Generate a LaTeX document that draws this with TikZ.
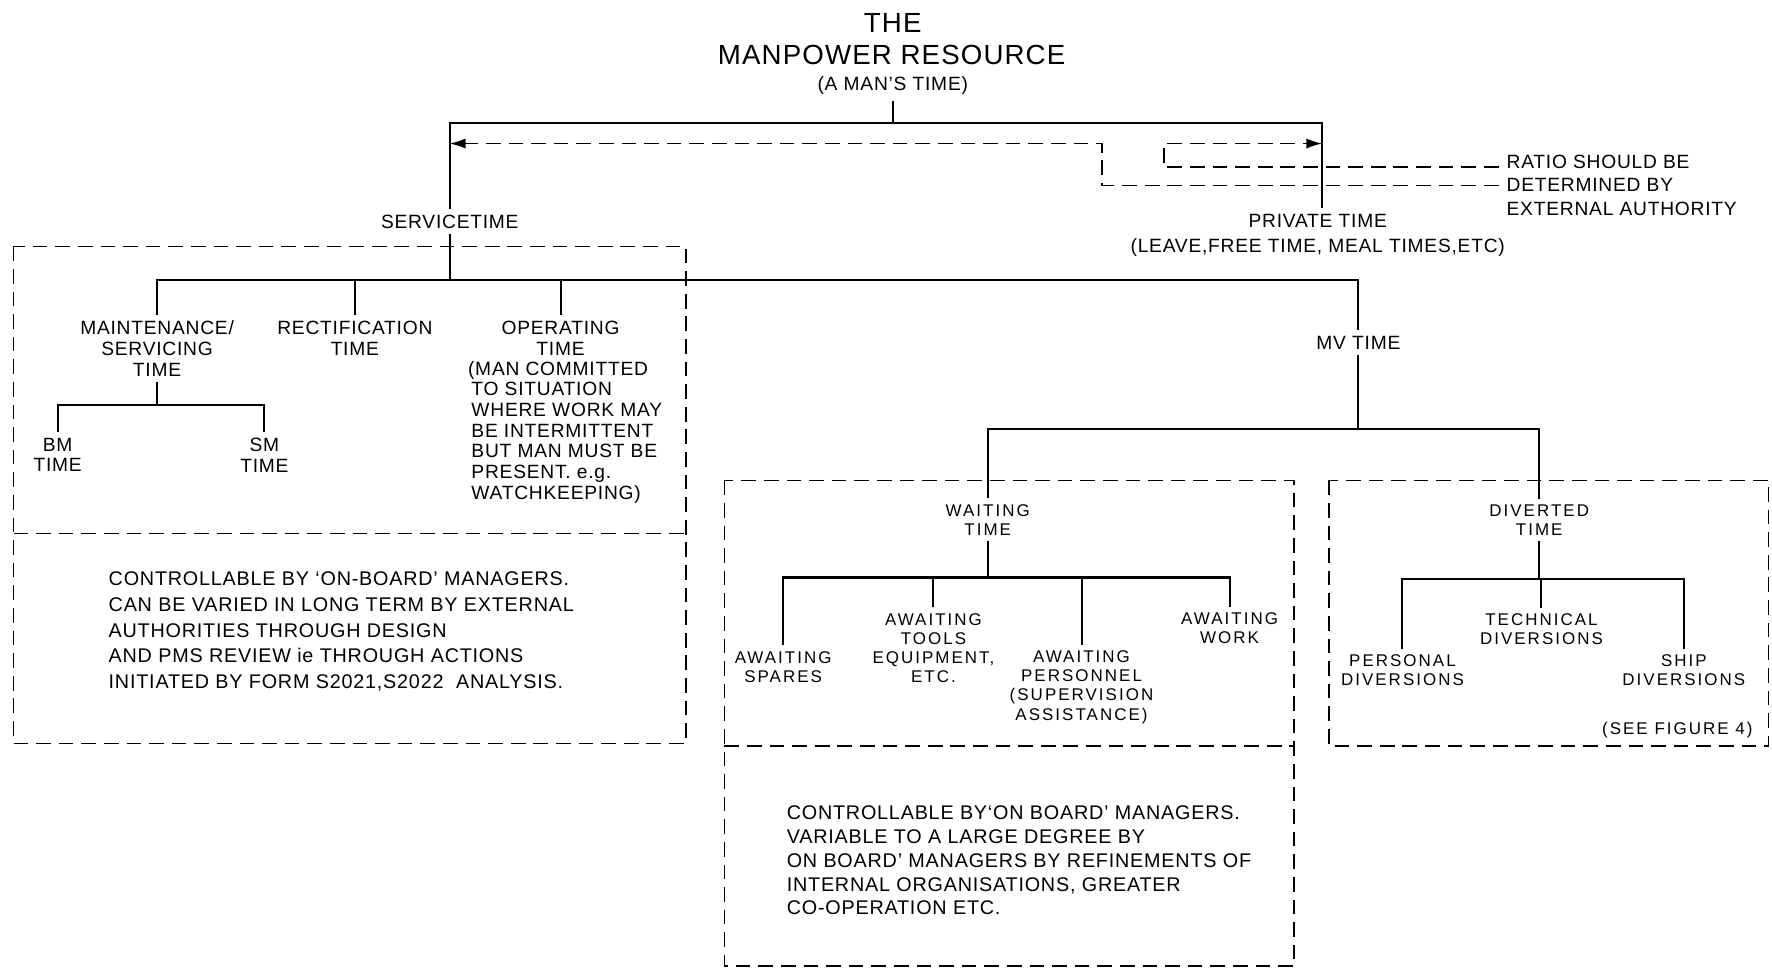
\documentclass[tikz,border=0pt]{standalone}
\usepackage{fontspec}
\setmainfont{Liberation Sans}[LetterSpace=4]
\newfontfamily\widefont{Liberation Sans}[LetterSpace=12]
\usetikzlibrary{arrows.meta}
\begin{document}
\begin{tikzpicture}[x=1pt,y=-1pt,
  lbl/.style={inner xsep=0pt, inner ysep=5pt, align=center, font=\fontsize{17}{18.5}\selectfont},
  wlbl/.style={inner xsep=0pt, inner ysep=5pt, align=center, font=\widefont\fontsize{15}{17}\selectfont},
  note/.style={inner sep=0pt, align=left, anchor=north west},
  ln/.style={line width=1.8pt},
  dln/.style={line width=1.4pt, dash pattern=on 13pt off 7pt},
  arr/.style={-{Latex[length=14pt,width=9pt]}},
]
\useasboundingbox (0,0) rectangle (1568,857);

% title
\node[lbl, font=\fontsize{24.5}{29}\selectfont] (t1) at (790,20) {THE};
\node[lbl, font=\fontsize{24.5}{29}\selectfont] (t2) at (789,49) {MANPOWER RESOURCE};
\node[lbl, font=\fontsize{17}{18}\selectfont] (t3) at (790,76) {(A MAN’S TIME)};

\coordinate (L) at (398,109);
\coordinate (R) at (1170,109);
\coordinate (d1) at (975,127);
\coordinate (d2) at (1030,127);

\node[lbl] (srv) at (398,196) {SERVICETIME};
\node[lbl, font=\fontsize{17}{22}\selectfont] (prv) at (1166,208) {PRIVATE TIME\\(LEAVE,FREE TIME, MEAL TIMES,ETC)};

\node[inner sep=0pt, anchor=west, font=\fontsize{17}{18}\selectfont] (ra1) at (1333,143) {RATIO SHOULD BE};
\node[inner sep=0pt, anchor=west, font=\fontsize{17}{18}\selectfont] (ra2) at (1333,164) {DETERMINED BY};
\node[inner sep=0pt, anchor=west, font=\fontsize{17}{18}\selectfont] (ra3) at (1333,185) {EXTERNAL AUTHORITY};

\draw[ln] (t3.south) -- (t3.south |- L);
\draw[ln] (srv.north) -- (L) -- (R) -- (R |- prv.north);
\draw[dln,arr] ([xshift=-7pt,yshift=-5pt]ra1.west) -| (d2) -- (d2 -| R);
\draw[dln,arr] ([xshift=-7pt]ra2.west) -| (d1) -- (d1 -| L);

% service box
\draw[dln] (12,218) rectangle (607,658);
\draw[dln] (12,472) -- (607,472);

\coordinate (sb) at (398,248);
\node[lbl] (mnt) at (139,308.5) {MAINTENANCE/\\SERVICING\\TIME};
\node[lbl] (rect) at (314,299) {RECTIFICATION\\TIME};
\node[lbl] (oper) at (496,299) {OPERATING\\TIME};
\node[note, font=\fontsize{17}{18.3}\selectfont] (operd) at (414,319.5) {(MAN COMMITTED\\\hspace*{3pt}TO SITUATION\\\hspace*{3pt}WHERE WORK MAY\\\hspace*{3pt}BE INTERMITTENT\\\hspace*{3pt}BUT MAN MUST BE\\\hspace*{3pt}PRESENT. e.g.\\\hspace*{3pt}WATCHKEEPING)};

\node[lbl] (mv) at (1202,303) {MV TIME};

\draw[ln] (srv.south) -- (sb);
\draw[ln] (mnt.north) -- (mnt.north |- sb) -| (mv.north);
\draw[ln] (rect.north) -- (rect.north |- sb);
\draw[ln] (oper.north) -- (oper.north |- sb);

\coordinate (mb) at (139,358);
\node[lbl] (bm) at (51,402.5) {BM\\TIME};
\node[lbl] (sm) at (234,402.5) {SM\\TIME};
\draw[ln] (mnt.south) -- (mb);
\draw[ln] (bm.north) -- (bm.north |- mb) -| (sm.north);

\node[note, font=\fontsize{17.5}{22.7}\selectfont] (c1) at (96,506) {CONTROLLABLE BY ‘ON-BOARD’ MANAGERS.\\CAN BE VARIED IN LONG TERM BY EXTERNAL\\AUTHORITIES THROUGH DESIGN\\AND PMS REVIEW ie THROUGH ACTIONS\\INITIATED BY FORM S2021,S2022\ \ ANALYSIS.};

% MV part
\coordinate (mvb) at (1202,380);
\node[wlbl] (wt) at (874,460) {WAITING\\TIME};
\node[wlbl] (dv) at (1362,460) {DIVERTED\\TIME};
\draw[ln] (mv.south) -- (mvb);
\draw[ln] (wt.north) -- (wt.north |- mvb) -| (dv.north);

\draw[dln] (641,425) rectangle (1145,855);
\draw[dln] (641,660) -- (1145,660);

\coordinate (wb) at (874,511);
\node[wlbl] (aw1) at (693,590) {AWAITING\\SPARES};
\node[wlbl] (aw2) at (826,573.5) {AWAITING\\TOOLS\\EQUIPMENT,\\ETC.};
\node[wlbl] (aw3) at (957,608) {AWAITING\\PERSONNEL\\(SUPERVISION\\ASSISTANCE)};
\node[wlbl] (aw4) at (1088,556) {AWAITING\\WORK};
\draw[ln] (wt.south) -- (wb);
\draw[ln] (aw1.north) -- (aw1.north |- wb) -| (aw4.north);
\draw[ln] (aw2.north) -- (aw2.north |- wb);
\draw[ln] (aw3.north) -- (aw3.north |- wb);

\node[note, font=\fontsize{17.5}{21}\selectfont] (c2) at (696,713) {CONTROLLABLE BY‘ON BOARD’ MANAGERS.\\VARIABLE TO A LARGE DEGREE BY\\ON BOARD’ MANAGERS BY REFINEMENTS OF\\INTERNAL ORGANISATIONS, GREATER\\CO-OPERATION ETC.};

\draw[dln] (1176,425) rectangle (1565,660);
\coordinate (db) at (1362,512);
\node[wlbl] (dp) at (1241,593) {PERSONAL\\DIVERSIONS};
\node[wlbl] (dt) at (1364,557) {TECHNICAL\\DIVERSIONS};
\node[wlbl] (ds) at (1490,593) {SHIP\\DIVERSIONS};
\draw[ln] (dv.south) -- (db);
\draw[ln] (dp.north) -- (dp.north |- db) -| (ds.north);
\draw[ln] (dt.north) -- (dt.north |- db);
\node[wlbl, inner ysep=0pt, anchor=east] (fig) at (1551,646) {(SEE FIGURE 4)};
\end{tikzpicture}
\end{document}
